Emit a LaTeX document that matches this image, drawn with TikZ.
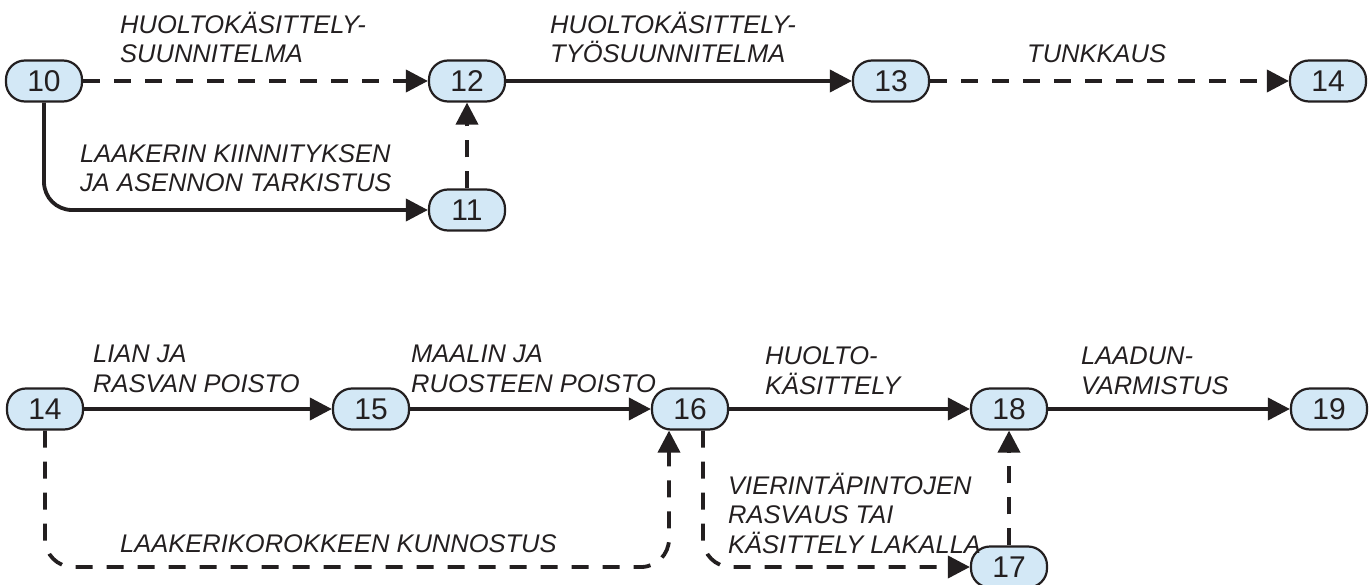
\documentclass[tikz,border=0pt]{standalone}
\usepackage{fontspec}
\setmainfont{Liberation Sans}
\usetikzlibrary{arrows.meta}
\definecolor{ink}{RGB}{35,31,32}
\definecolor{eventfill}{RGB}{211,232,246}
\begin{document}
\begin{tikzpicture}[x=1pt,y=-1pt,
  event/.style={draw=ink,line width=2.2pt,fill=eventfill,rounded corners=19pt,
    minimum width=76pt,minimum height=41pt,inner sep=0pt,text=ink,
    font=\fontsize{30}{30}\selectfont},
  act/.style={draw=ink,line width=3.8pt,-{Triangle[length=22pt,width=22pt]}},
  dep/.style={act,dash pattern=on 17pt off 14pt},
  lbl/.style={font=\fontsize{25.5}{29.5}\selectfont\itshape,text=ink,align=left,
    inner sep=0pt,anchor=base west}
]
\useasboundingbox (0,0) rectangle (1372,585);

% upper network
\node[event] (n10) at (44,81) {10};
\node[event] (n12) at (467,81) {12};
\node[event] (n11) at (467,210) {11};
\node[event] (n13) at (891,81) {13};
\node[event] (n14a) at (1328,81) {14};

\draw[dep] (n10) -- (n12);
\draw[act,rounded corners=28pt] (n10.south) |- (n11.west);
\draw[dep] (n11) -- (n12);
\draw[act] (n12) -- (n13);
\draw[dep] (n13) -- (n14a);

% labels: the anchor sits on the baseline of the last line
\node[lbl] (t1) at (120,63) {HUOLTOKÄSITTELY-\\SUUNNITELMA};
\node[lbl] (t2) at (80,192) {LAAKERIN KIINNITYKSEN\\JA ASENNON TARKISTUS};
\node[lbl] (t3) at (550,63) {HUOLTOKÄSITTELY-\\TYÖSUUNNITELMA};
\node[lbl] (t4) at (1027,63) {TUNKKAUS};

% lower network
\node[event] (n14b) at (45,409) {14};
\node[event] (n15) at (371,409) {15};
\node[event] (n16) at (690,409) {16};
\node[event] (n18) at (1009,409) {18};
\node[event] (n19) at (1329,409) {19};
\node[event] (n17) at (1009,567) {17};

\draw[act] (n14b) -- (n15);
\draw[act] (n15) -- (n16);
\draw[act] (n16) -- (n18);
\draw[act] (n18) -- (n19);
\draw[dep,rounded corners=28pt] (n14b.south) |- ([xshift=-21pt]n16.south |- n17.west) -- ([xshift=-21pt]n16.south);
\draw[dep,rounded corners=28pt] ([xshift=13pt]n16.south) |- (n17.west);
\draw[dep] (n17) -- (n18);

\node[lbl] (b1) at (93,392) {LIAN JA\\RASVAN POISTO};
\node[lbl] (b2) at (411,392) {MAALIN JA\\RUOSTEEN POISTO};
\node[lbl] (b3) at (765,394) {HUOLTO-\\KÄSITTELY};
\node[lbl] (b4) at (1081,394) {LAADUN-\\VARMISTUS};
\node[lbl] (b5) at (120,552) {LAAKERIKOROKKEEN KUNNOSTUS};
\node[lbl] (b6) at (728,553) {VIERINTÄPINTOJEN\\RASVAUS TAI\\KÄSITTELY LAKALLA};
\end{tikzpicture}
\end{document}
